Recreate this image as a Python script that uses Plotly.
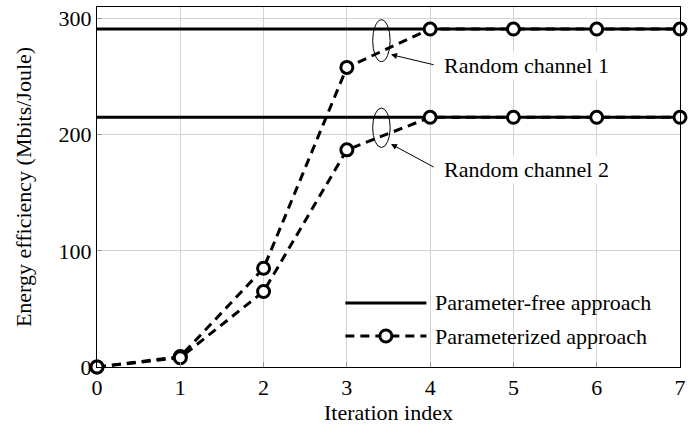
import plotly.graph_objects as go

# Iteration indices and energy efficiency (Mbits/Joule)
iterations = [0, 1, 2, 3, 4, 5, 6, 7]
param_free_ch1 = [291] * 8
param_free_ch2 = [215] * 8
parameterized_ch1 = [0, 9, 85, 258, 291, 291, 291, 291]
parameterized_ch2 = [0, 8, 65, 187, 215, 215, 215, 215]

x_ticks = [0, 1, 2, 3, 4, 5, 6, 7]
y_ticks = [0, 100, 200, 300]
channel_labels = ["Random channel 1", "Random channel 2"]
legend_labels = ["Parameter-free approach", "Parameterized approach"]

FONT = "Liberation Serif"
solid = dict(color="black", width=3)
dashed = dict(color="black", width=3, dash="9px,6px")

fig = go.Figure()
for ys, name in zip([param_free_ch1, param_free_ch2], ["Channel 1", "Channel 2"]):
    fig.add_trace(go.Scatter(x=iterations, y=ys, mode="lines", line=solid,
                             name=name, showlegend=False, cliponaxis=False))
for ys, name in zip([parameterized_ch1, parameterized_ch2], ["Channel 1", "Channel 2"]):
    fig.add_trace(go.Scatter(x=iterations, y=ys, mode="lines+markers", line=dashed,
                             marker=dict(symbol="circle", size=12, color="white",
                                         line=dict(color="black", width=3)),
                             name=name, showlegend=False, cliponaxis=False))

# Ellipses grouping each channel's pair of curves
for y0, y1 in [(263, 299), (189, 223)]:
    fig.add_shape(type="circle", xref="x", yref="y", x0=3.31, x1=3.52, y0=y0, y1=y1,
                  line=dict(color="black", width=1))

# Arrows pointing to the ellipses and channel labels
for (hy, ty, ly), label in zip([(269, 260, 260), (192, 171.5, 170)], channel_labels):
    fig.add_annotation(x=3.53, y=hy, ax=4.06, ay=ty, xref="x", yref="y",
                       axref="x", ayref="y", text="", showarrow=True,
                       arrowhead=2, arrowsize=1.2, arrowwidth=1, arrowcolor="black")
    fig.add_annotation(x=4.14, y=ly, xref="x", yref="y", text=label, showarrow=False,
                       xanchor="left", yanchor="middle", bgcolor="white",
                       font=dict(family=FONT, size=22, color="black"))

# Legend box (drawn manually for the long line samples)
fig.add_shape(type="rect", xref="paper", yref="paper", x0=0.419, x1=0.975, y0=0.042, y1=0.215,
              fillcolor="white", line=dict(width=0), layer="between")
lx0, lx1, lmid = 0.426, 0.565, 0.4955
ly_solid, ly_dash = 0.178, 0.086
fig.add_shape(type="line", xref="paper", yref="paper", x0=lx0, x1=lx1, y0=ly_solid, y1=ly_solid,
              line=solid)
fig.add_shape(type="line", xref="paper", yref="paper", x0=lx0, x1=lx1, y0=ly_dash, y1=ly_dash,
              line=dashed)
fig.add_shape(type="circle", xref="paper", yref="paper", xsizemode="pixel", ysizemode="pixel",
              xanchor=lmid, yanchor=ly_dash, x0=-6, x1=6, y0=-6, y1=6,
              fillcolor="white", line=dict(color="black", width=3))
for yy, label in zip([ly_solid, ly_dash], legend_labels):
    fig.add_annotation(x=0.577, y=yy, xref="paper", yref="paper", text=label, showarrow=False,
                       xanchor="left", yanchor="middle",
                       font=dict(family=FONT, size=22, color="black"))

axis_common = dict(showline=True, linecolor="black", linewidth=1.2, mirror=True,
                   showgrid=True, gridcolor="#d4d4d4", gridwidth=1, zeroline=False,
                   ticks="inside", ticklen=5, tickcolor="#999999",
                   ticklabeloverflow="allow",
                   tickfont=dict(family=FONT, size=22, color="black"))

fig.update_xaxes(range=[0, 7], tickvals=x_ticks,
                 title=dict(text="Iteration index", font=dict(family=FONT, size=22, color="black"),
                            standoff=6),
                 **axis_common)
fig.update_yaxes(range=[0, 310], tickvals=y_ticks,
                 title=dict(text="Energy efficiency (Mbits/Joule)",
                            font=dict(family=FONT, size=22, color="black"), standoff=20),
                 **axis_common)

fig.update_layout(
    width=691, height=434,
    margin=dict(l=97, r=5, t=7, b=67),
    plot_bgcolor="white", paper_bgcolor="white",
    font=dict(family=FONT, color="black"),
    showlegend=False,
)

fig.write_html("out.html")
